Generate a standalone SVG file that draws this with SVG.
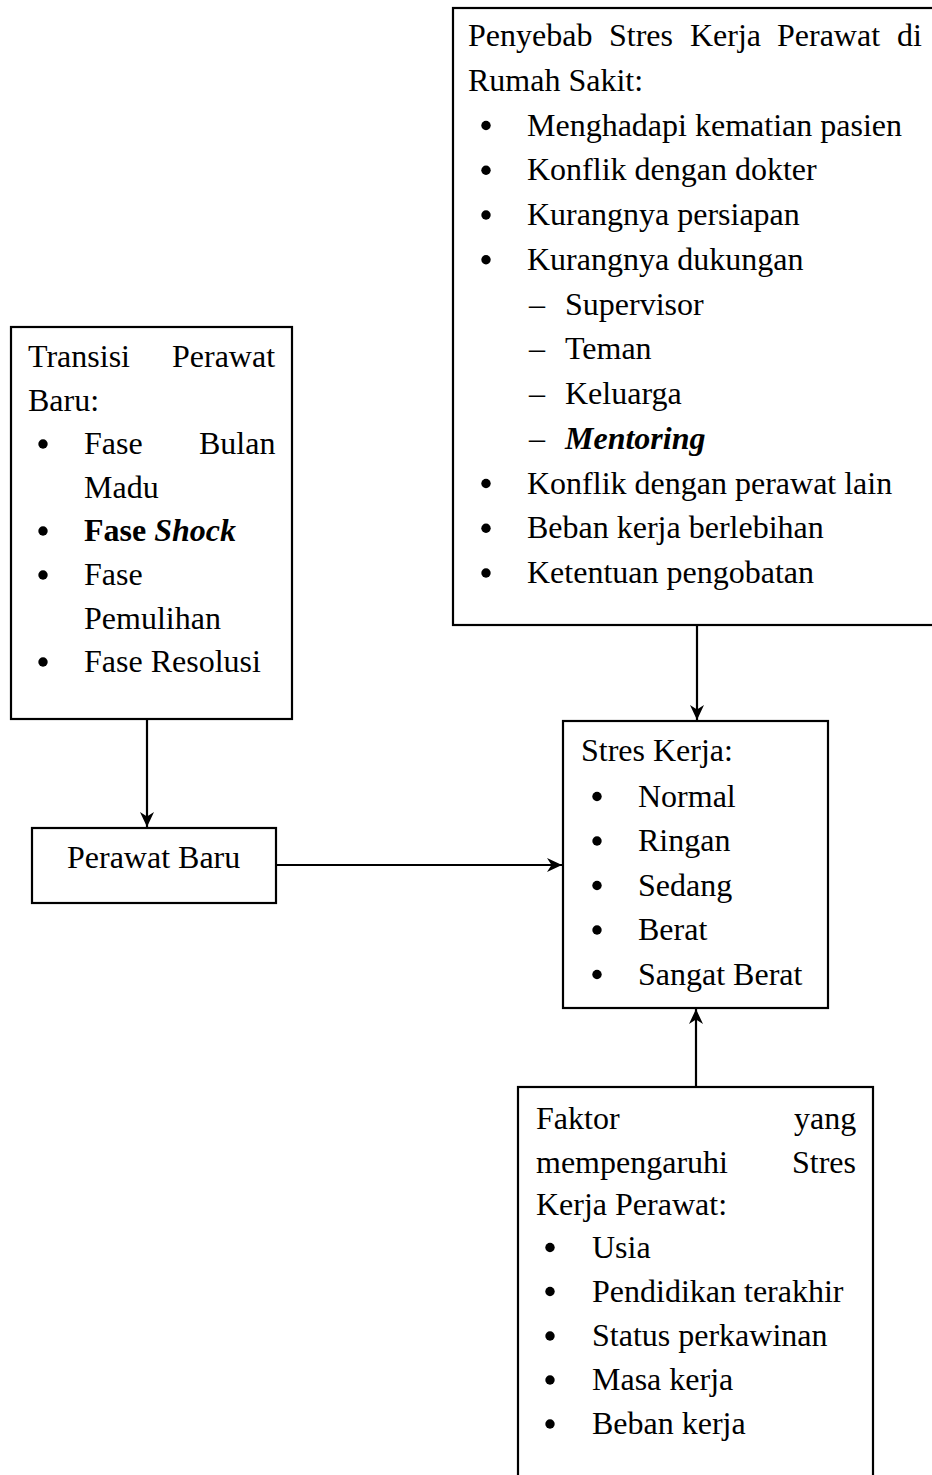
<svg xmlns="http://www.w3.org/2000/svg" width="932" height="1475" viewBox="0 0 932 1475">
<style>
text{font-family:"Liberation Serif","Times New Roman",serif;font-size:32px;fill:#000}
.box{fill:#fff;stroke:#000;stroke-width:2.2}
.b{font-weight:bold}
.bi{font-weight:bold;font-style:italic}
.conn{stroke:#000;stroke-width:2.2;fill:none;marker-end:url(#arr)}
</style>
<defs>
<marker id="arr" viewBox="0 0 15 14" refX="15" refY="7" markerWidth="15" markerHeight="14" markerUnits="userSpaceOnUse" orient="auto">
<path d="M0,0 L15,7 L0,14 L4.5,7 Z" fill="#000"/>
</marker>
<circle id="dot" r="4.7" fill="#000"/>
</defs>
<rect width="932" height="1475" fill="#fff"/>

<g id="penyebab">
<rect class="box" x="453" y="8" width="495" height="617"/>
<text y="46"><tspan x="468">Penyebab</tspan><tspan x="609">Stres</tspan><tspan x="690">Kerja</tspan><tspan x="777">Perawat</tspan><tspan x="897">di</tspan></text>
<text x="468" y="90.75">Rumah Sakit:</text>
<use href="#dot" x="486" y="125.5"/><text x="527" y="135.5">Menghadapi kematian pasien</text>
<use href="#dot" x="486" y="170.25"/><text x="527" y="180.25">Konflik dengan dokter</text>
<use href="#dot" x="486" y="215"/><text x="527" y="225">Kurangnya persiapan</text>
<use href="#dot" x="486" y="259.75"/><text x="527" y="269.75">Kurangnya dukungan</text>
<text x="529" y="314.5">–</text><text x="565" y="314.5">Supervisor</text>
<text x="529" y="359.25">–</text><text x="565" y="359.25">Teman</text>
<text x="529" y="404">–</text><text x="565" y="404">Keluarga</text>
<text x="529" y="448.75">–</text><text x="565" y="448.75" class="bi">Mentoring</text>
<use href="#dot" x="486" y="483.5"/><text x="527" y="493.5">Konflik dengan perawat lain</text>
<use href="#dot" x="486" y="528.25"/><text x="527" y="538.25">Beban kerja berlebihan</text>
<use href="#dot" x="486" y="573"/><text x="527" y="583">Ketentuan pengobatan</text>
</g>

<g id="transisi">
<rect class="box" x="11" y="327" width="281" height="392"/>
<text y="367"><tspan x="28">Transisi</tspan><tspan x="172">Perawat</tspan></text>
<text x="28" y="410.5">Baru:</text>
<use href="#dot" x="43" y="444"/><text y="454"><tspan x="84">Fase</tspan><tspan x="199">Bulan</tspan></text>
<text x="84" y="497.5">Madu</text>
<use href="#dot" x="43" y="531"/><text x="84" y="541"><tspan class="b">Fase </tspan><tspan class="bi">Shock</tspan></text>
<use href="#dot" x="43" y="575"/><text x="84" y="585">Fase</text>
<text x="84" y="628.5">Pemulihan</text>
<use href="#dot" x="43" y="662"/><text x="84" y="672">Fase Resolusi</text>
</g>

<g id="perawat-baru">
<rect class="box" x="32" y="828" width="244" height="75"/>
<text x="67" y="868">Perawat Baru</text>
</g>

<g id="stres-kerja">
<rect class="box" x="563" y="721" width="265" height="287"/>
<text x="581" y="761">Stres Kerja:</text>
<use href="#dot" x="597" y="796.5"/><text x="638" y="806.5">Normal</text>
<use href="#dot" x="597" y="841"/><text x="638" y="851">Ringan</text>
<use href="#dot" x="597" y="885.5"/><text x="638" y="895.5">Sedang</text>
<use href="#dot" x="597" y="930"/><text x="638" y="940">Berat</text>
<use href="#dot" x="597" y="974.5"/><text x="638" y="984.5">Sangat Berat</text>
</g>

<g id="faktor">
<rect class="box" x="518" y="1087" width="355" height="400"/>
<text y="1129"><tspan x="536">Faktor</tspan><tspan x="794">yang</tspan></text>
<text y="1172.5"><tspan x="536">mempengaruhi</tspan><tspan x="792">Stres</tspan></text>
<text x="536" y="1215">Kerja Perawat:</text>
<use href="#dot" x="550" y="1247.5"/><text x="592" y="1257.5">Usia</text>
<use href="#dot" x="550" y="1291.5"/><text x="592" y="1301.5">Pendidikan terakhir</text>
<use href="#dot" x="550" y="1336"/><text x="592" y="1346">Status perkawinan</text>
<use href="#dot" x="550" y="1380"/><text x="592" y="1390">Masa kerja</text>
<use href="#dot" x="550" y="1424"/><text x="592" y="1434">Beban kerja</text>
</g>

<g id="connectors">
<line class="conn" x1="697" y1="625" x2="697" y2="720"/>
<line class="conn" x1="147" y1="719" x2="147" y2="827"/>
<line class="conn" x1="276" y1="865" x2="562" y2="865"/>
<line class="conn" x1="696" y1="1087" x2="696" y2="1009"/>
</g>
</svg>
